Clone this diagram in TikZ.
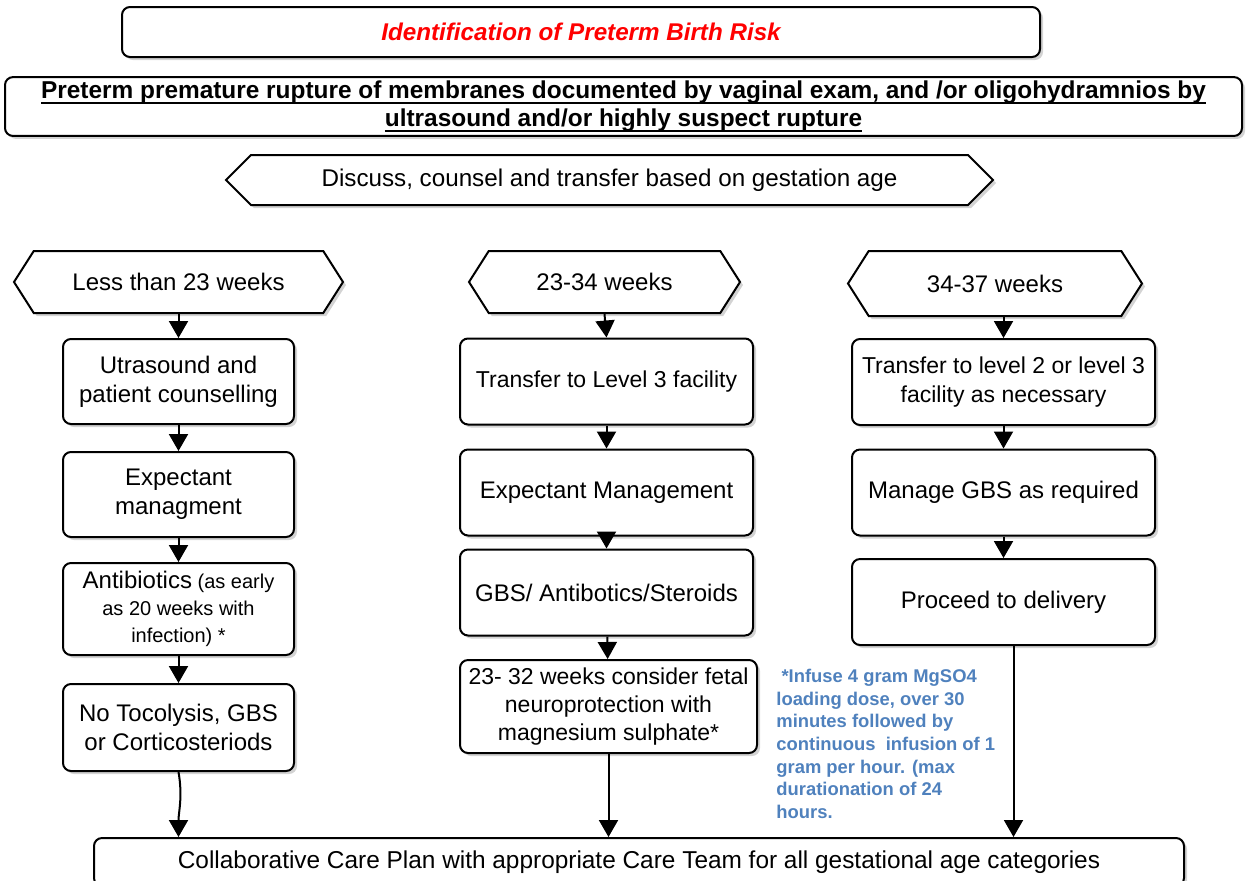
\documentclass[tikz,border=0pt]{standalone}
\usepackage{fontspec}
\setmainfont{Liberation Sans}
\usepackage{xcolor}
\usepackage{tikz}
\usetikzlibrary{arrows.meta,shapes,shadows,positioning}
\definecolor{noteblue}{HTML}{4F81BD}
\newcommand{\promline}[1]{\setbox0\hbox{#1}\rlap{\rule[-2.4pt]{\wd0}{0.7pt}}\box0}

\begin{document}
\begin{tikzpicture}[x=0.5pt, y=-0.5pt,
    box/.style={rectangle, draw, line width=1pt, rounded corners=4pt, fill=white, align=center,
      inner sep=2pt, drop shadow={shadow xshift=1.5pt, shadow yshift=-1.5pt, opacity=0.35}},
    agebox/.style={signal, signal to=west and east, signal pointer angle=115, draw, line width=1pt,
      fill=white, inner sep=2pt, drop shadow={shadow xshift=1.5pt, shadow yshift=-1.5pt, opacity=0.35},
      font=\fontsize{12}{14}\selectfont},
    leftbox/.style={box, minimum width=115.5pt, font=\fontsize{12}{14.5}\selectfont},
    midbox/.style={box, minimum width=146.5pt, minimum height=43pt, font=\fontsize{11.5}{13.8}\selectfont},
    rightbox/.style={box, minimum width=151.5pt, minimum height=43pt, font=\fontsize{11.5}{14.5}\selectfont},
    arr/.style={-{Triangle[length=8.5pt,width=9.5pt]}, line width=1pt}
  ]
    \useasboundingbox (0,0) rectangle (1247,880);

    % Header boxes
    \node[box, minimum width=459pt, minimum height=25pt, text=red,
      font=\fontsize{12.1}{15}\selectfont\bfseries\itshape] (title) at (581,32)
      {Identification of Preterm Birth Risk};
    \node[box, minimum width=618.5pt, minimum height=28.5pt, font=\fontsize{12.2}{14}\selectfont\bfseries] (prom) at (623.5,106.5)
      {\promline{Preterm premature rupture of membranes documented by vaginal exam, and /or oligohydramnios by}\\
       \promline{ultrasound and/or highly suspect rupture}};
    \node[agebox, signal pointer angle=90, minimum width=383.5pt, minimum height=25pt,
      font=\fontsize{12.1}{14}\selectfont] (discuss) at (609.5,180)
      {Discuss, counsel and transfer based on gestation age};

    % Gestation age
    \node[agebox, minimum width=164.5pt, minimum height=31pt] (lthan) at (178.5,282) {Less than 23 weeks};
    \node[agebox, minimum width=135.5pt, minimum height=31pt] (mid) at (604.5,282) {23-34 weeks};
    \node[agebox, minimum width=147pt, minimum height=32.5pt] (late) at (995,283.5) {34-37 weeks};

    % Less than 23 weeks
    \node[leftbox, minimum height=42.5pt] (l1) at (178.5,381.5) {Utrasound and\\patient counselling};
    \node[leftbox, minimum height=42.5pt] (l2) at (178.5,494.5) {Expectant\\managment};
    \node[leftbox, minimum height=46pt, font=\fontsize{10}{13.5}\selectfont] (l3) at (178.5,609)
      {{\fontsize{12}{13.5}\selectfont Antibiotics} (as early\\as 20 weeks with\\infection) *};
    \node[leftbox, minimum height=43.5pt] (l4) at (178.5,727.5) {No Tocolysis, GBS\\or Corticosteriods};

    % 23-34 weeks
    \node[midbox] (m1) at (606.5,381.5) {Transfer to Level 3 facility};
    \node[midbox, font=\fontsize{12}{14}\selectfont] (m2) at (606.5,492.5) {Expectant Management};
    \node[midbox, font=\fontsize{12}{14}\selectfont] (m3) at (606.5,592.5) {GBS/ Antibotics/Steroids};
    \node[midbox, minimum width=148.5pt, minimum height=46.5pt] (m4) at (608.5,706.5)
      {23- 32 weeks consider fetal\\neuroprotection with\\magnesium sulphate*};

    % 34-37 weeks
    \node[rightbox] (r1) at (1003.5,382) {Transfer to level 2 or level 3\\facility as necessary};
    \node[rightbox, font=\fontsize{12}{14}\selectfont] (r2) at (1003.5,492.5) {Manage GBS as required};
    \node[rightbox, font=\fontsize{12}{14}\selectfont] (r3) at (1003.5,602) {Proceed to delivery};

    % Note
    \node[anchor=north west, align=left, text=noteblue, inner sep=0pt,
      font=\fontsize{9.2}{11.3}\selectfont\bfseries] (note) at (776,669)
      {\ *Infuse 4 gram MgSO4\\loading dose, over 30\\minutes followed by\\continuous\ \ infusion of 1\\gram per hour. (max\\durationation of 24\\hours.};

    % Care plan
    \node[box, minimum width=545pt, minimum height=24pt, font=\fontsize{12.2}{14}\selectfont] (bot) at (639,862)
      {Collaborative Care Plan with appropriate Care Team for all gestational age categories};

    % Arrows
    \draw[arr] (lthan.south) -- (l1.north);
    \draw[arr] (l1) -- (l2);
    \draw[arr] (l2) -- (l3);
    \draw[arr] (l3) -- (l4);
    \draw[arr] (l4.south) to[out=-80, in=90] (l4.south |- bot.north);

    \draw[arr] (mid.south) -- (m1.north);
    \draw[arr] (m1) -- (m2);
    \draw[arr] (m2) -- (m3);
    \draw[arr] (m3) -- (m4);
    \draw[arr] (m4.south) -- (m4.south |- bot.north);

    \draw[arr] (r1.north |- late.south) -- (r1.north);
    \draw[arr] (r1) -- (r2);
    \draw[arr] (r2) -- (r3);
    \draw[arr] ([xshift=5pt]r3.south) -- ([xshift=5pt]r3.south |- bot.north);
  \end{tikzpicture}
\end{document}
